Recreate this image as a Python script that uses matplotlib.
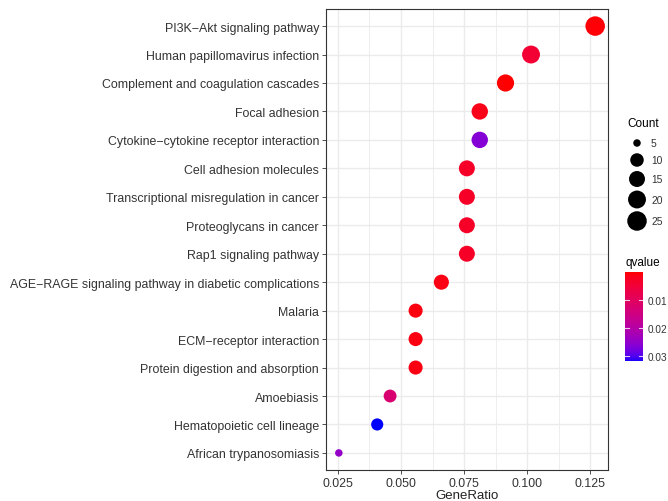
import numpy as np
import matplotlib
matplotlib.use('Agg')
import matplotlib.pyplot as plt
from matplotlib.colors import ListedColormap, Normalize

plt.rcParams['font.family'] = ['Liberation Sans', 'DejaVu Sans']

# KEGG enrichment, top to bottom as drawn
pathways = [
    'PI3K\u2212Akt signaling pathway',
    'Human papillomavirus infection',
    'Complement and coagulation cascades',
    'Focal adhesion',
    'Cytokine\u2212cytokine receptor interaction',
    'Cell adhesion molecules',
    'Transcriptional misregulation in cancer',
    'Proteoglycans in cancer',
    'Rap1 signaling pathway',
    'AGE\u2212RAGE signaling pathway in diabetic complications',
    'Malaria',
    'ECM\u2212receptor interaction',
    'Protein digestion and absorption',
    'Amoebiasis',
    'Hematopoietic cell lineage',
    'African trypanosomiasis',
]
gene_ratio = [0.1269, 0.1015, 0.0914, 0.0812, 0.0812, 0.0761, 0.0761, 0.0761,
              0.0761, 0.0660, 0.0558, 0.0558, 0.0558, 0.0457, 0.0406, 0.0254]
counts = [25, 20, 18, 16, 16, 15, 15, 15, 15, 13, 11, 11, 11, 9, 8, 5]
qvalues = [0.0003, 0.0045, 0.0001, 0.0015, 0.0262, 0.0030, 0.0030, 0.0030,
           0.0030, 0.0012, 0.0008, 0.0010, 0.0010, 0.0125, 0.0318, 0.0245]

x_ticks = [0.025, 0.050, 0.075, 0.100, 0.125]
x_tick_labels = ['0.025', '0.050', '0.075', '0.100', '0.125']
size_breaks = [5, 10, 15, 20, 25]
q_breaks = [0.01, 0.02, 0.03]

W, H = 668, 502


def srgb_to_lab(rgb):
    c = np.asarray(rgb, float)
    c = np.where(c > 0.04045, ((c + 0.055) / 1.055) ** 2.4, c / 12.92)
    m = np.array([[0.4124, 0.3576, 0.1805],
                  [0.2126, 0.7152, 0.0722],
                  [0.0193, 0.1192, 0.9505]])
    xyz = m @ c / np.array([0.95047, 1.0, 1.08883])
    f = np.where(xyz > 0.008856, np.cbrt(xyz), 7.787 * xyz + 16 / 116)
    return np.array([116 * f[1] - 16, 500 * (f[0] - f[1]), 200 * (f[1] - f[2])])


def lab_to_srgb(lab):
    L, a, b = lab
    fy = (L + 16) / 116
    f = np.array([fy + a / 500, fy, fy - b / 200])
    xyz = np.where(f ** 3 > 0.008856, f ** 3, (f - 16 / 116) / 7.787)
    xyz = xyz * np.array([0.95047, 1.0, 1.08883])
    m = np.array([[3.2406, -1.5372, -0.4986],
                  [-0.9689, 1.8758, 0.0415],
                  [0.0557, -0.2040, 1.0570]])
    c = m @ xyz
    c = np.where(c > 0.0031308, 1.055 * np.clip(c, 0, None) ** (1 / 2.4) - 0.055, 12.92 * c)
    return np.clip(c, 0, 1)


# red -> blue gradient interpolated in Lab, like ggplot's scale_color_gradient
lab_lo = srgb_to_lab([1, 0, 0])
lab_hi = srgb_to_lab([0, 0, 1])
cmap = ListedColormap([lab_to_srgb(lab_lo + t * (lab_hi - lab_lo)) for t in np.linspace(0, 1, 256)])
norm = Normalize(vmin=0.0, vmax=0.0318)


def diam_px(c):
    c = np.asarray(c, float)
    return 7.5 + 12.0 * np.sqrt((c - min(counts)) / (max(counts) - min(counts)))


def fig_box(x0, y0, x1, y1):
    return [x0 / W, 1 - y1 / H, (x1 - x0) / W, (y1 - y0) / H]


fig = plt.figure(figsize=(W / 100, H / 100), dpi=100)
ax = fig.add_axes(fig_box(326, 10, 608, 471))

ypos = np.arange(len(pathways))[::-1]
ax.scatter(gene_ratio, ypos, s=(diam_px(counts) * 0.72) ** 2,
           c=qvalues, cmap=cmap, norm=norm, edgecolors='none', zorder=3)

span = max(gene_ratio) - min(gene_ratio)
ax.set_xlim(min(gene_ratio) - 0.05 * span, max(gene_ratio) + 0.05 * span)
ax.set_ylim(-0.6, len(pathways) - 0.4)

ax.set_xticks(x_ticks)
ax.set_xticklabels(x_tick_labels)
ax.set_xticks(np.array(x_ticks[:-1]) + 0.0125, minor=True)
ax.set_yticks(ypos)
ax.set_yticklabels(pathways)

ax.grid(True, which='major', color='#EBEBEB', linewidth=1.0, zorder=0)
ax.grid(True, which='minor', axis='x', color='#EBEBEB', linewidth=0.6, zorder=0)
ax.set_axisbelow(True)
ax.tick_params(which='major', length=3, width=0.6, color='#333333',
               labelsize=8.9, labelcolor='#333333', pad=2)
ax.tick_params(which='minor', length=0)
for sp in ax.spines.values():
    sp.set_color('#333333')
    sp.set_linewidth(0.8)
ax.set_xlabel('GeneRatio', fontsize=9.5, color='#222222', labelpad=0)

# Count size legend
fig.text(627 / W, 1 - 124 / H, 'Count', fontsize=8.5, va='center', ha='left')
lax = fig.add_axes(fig_box(615, 130, 668, 235))
lax.set_xlim(615, 668)
lax.set_ylim(235, 130)
lax.axis('off')
key_y = [144, 161, 180, 200.5, 222]
lax.scatter([637] * len(size_breaks), key_y, s=(diam_px(size_breaks) * 0.72) ** 2,
            color='black', edgecolors='none', clip_on=False)
for yk, b in zip(key_y, size_breaks):
    lax.text(651, yk, str(b), fontsize=7.4, color='#333333', va='center', ha='left')

# qvalue colorbar
fig.text(625 / W, 1 - 263 / H, 'qvalue', fontsize=8.5, va='center', ha='left')
cax = fig.add_axes(fig_box(625, 273, 643, 362))
grad = np.linspace(norm.vmin, norm.vmax, 200)
cax.pcolormesh([0, 1], grad, np.column_stack([grad[:-1]]), cmap=cmap, norm=norm, shading='flat')
cax.set_xlim(0, 1)
cax.set_ylim(norm.vmax, norm.vmin)
for q in q_breaks:
    cax.plot([0, 0.2], [q, q], color='white', linewidth=0.8, alpha=0.8)
    cax.plot([0.8, 1], [q, q], color='white', linewidth=0.8, alpha=0.8)
cax.set_xticks([])
cax.yaxis.tick_right()
cax.set_yticks(q_breaks)
cax.set_yticklabels([f'{q:.2f}' for q in q_breaks])
cax.tick_params(axis='y', length=0, labelsize=7.2, labelcolor='#333333', pad=3.5)
for sp in cax.spines.values():
    sp.set_visible(False)

fig.savefig('out.png', dpi=100)
